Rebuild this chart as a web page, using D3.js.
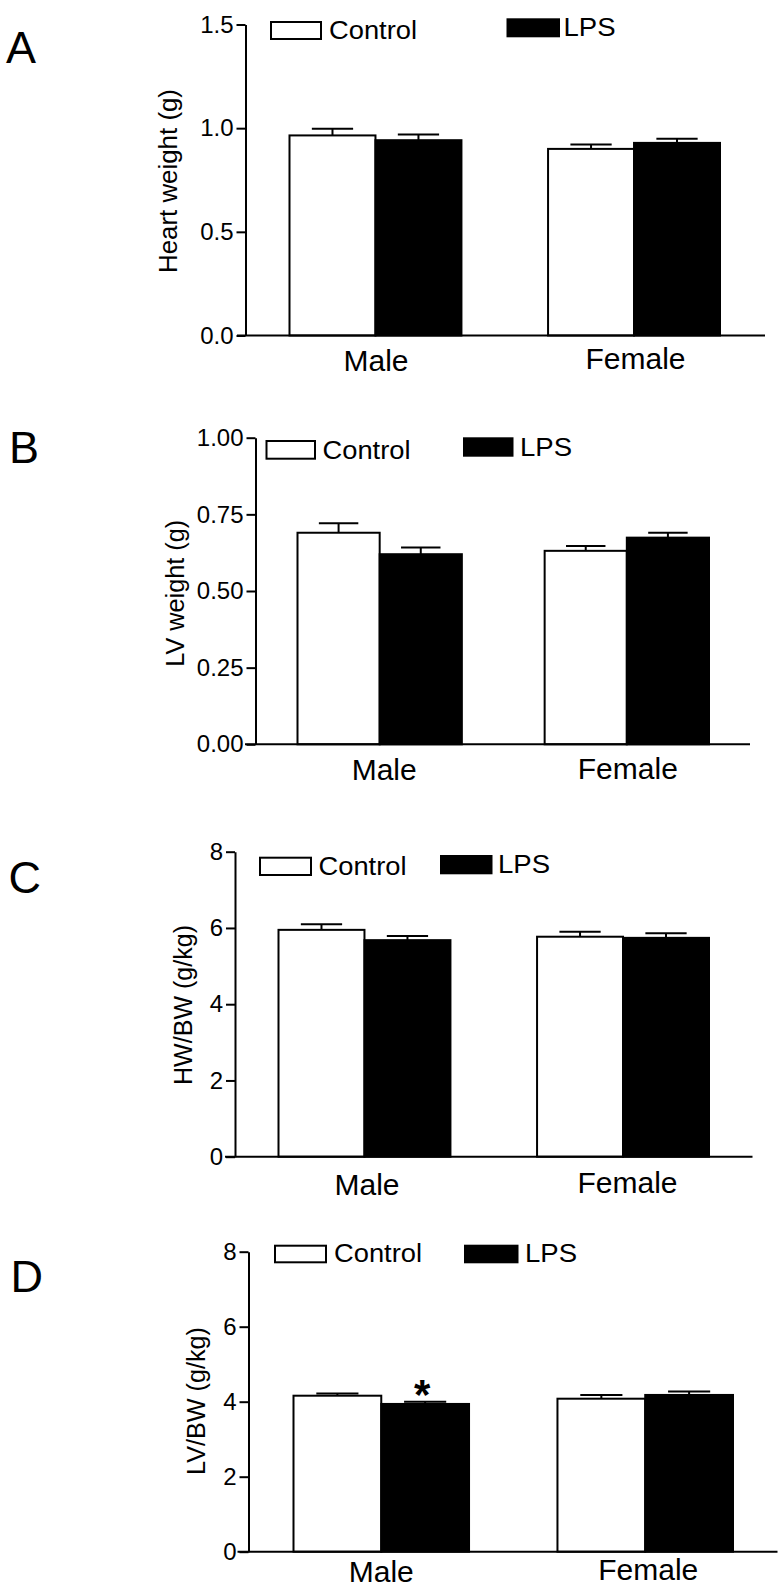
<!DOCTYPE html>
<html>
<head>
<meta charset="utf-8">
<script src="https://cdn.jsdelivr.net/npm/d3@7"></script>
<style>
  html, body { margin: 0; padding: 0; background: #fff; }
  text { font-family: "Liberation Sans", Arial, Helvetica, sans-serif; fill: #000; }
</style>
</head>
<body>
<script>
// ---------- DATA ----------
const categories = ["Male", "Female"];
const seriesNames = ["Control", "LPS"];

// A: Heart weight (g)
const heartCtrl = [0.965, 0.900];
const heartCtrlErr = [0.032, 0.021];
const heartLps = [0.942, 0.929];
const heartLpsErr = [0.028, 0.020];
const heartTicks = [0, 0.5, 1.0, 1.5];

// B: LV weight (g)
const lvCtrl = [0.690, 0.631];
const lvCtrlErr = [0.031, 0.016];
const lvLps = [0.620, 0.674];
const lvLpsErr = [0.022, 0.016];
const lvTicks = [0, 0.25, 0.50, 0.75, 1.00];

// C: HW/BW (g/kg)
const hwbwCtrl = [5.95, 5.77];
const hwbwCtrlErr = [0.15, 0.13];
const hwbwLps = [5.68, 5.74];
const hwbwLpsErr = [0.11, 0.12];
const hwbwTicks = [0, 2, 4, 6, 8];

// D: LV/BW (g/kg)
const lvbwCtrl = [4.16, 4.08];
const lvbwCtrlErr = [0.06, 0.10];
const lvbwLps = [3.94, 4.18];
const lvbwLpsErr = [0.06, 0.09];
const lvbwTicks = [0, 2, 4, 6, 8];
const lvbwLpsSig = ["*", ""];

const noSig = ["", ""];

// ---------- LAYOUT ----------
const panels = [
  { letter: "A", letterX: 6, letterY: 62.7, label: "Heart weight (g)", labelX: 177, labelY: 181, labelLen: 184,
    ctrl: heartCtrl, ctrlErr: heartCtrlErr, lps: heartLps, lpsErr: heartLpsErr, ctrlSig: noSig, lpsSig: noSig,
    ticks: heartTicks, fmt: ".1f", max: 1.5,
    ax: 245.5, y0: 335.5, yTop: 24.5, xl: 237, xr: 765, bx0: 289.5, bx1: 720,
    catY: [370.7, 369], catDx: [0.5, 1.5],
    leg: { c: [271, 22, 50, 17], ct: [329, 39], l: [507.5, 19.3, 51.5, 17], lt: [563.5, 36] } },
  { letter: "B", letterX: 9, letterY: 463.3, label: "LV weight (g)", labelX: 184, labelY: 593.3, labelLen: 147,
    ctrl: lvCtrl, ctrlErr: lvCtrlErr, lps: lvLps, lpsErr: lvLpsErr, ctrlSig: noSig, lpsSig: noSig,
    ticks: lvTicks, fmt: ".2f", max: 1.0,
    ax: 255.5, y0: 744.3, yTop: 437.7, xl: 245, xr: 750, bx0: 297.5, bx1: 709,
    catY: [780, 779], catDx: [4.5, 1],
    leg: { c: [266.5, 441, 48.5, 17.7], ct: [322.5, 458.7], l: [464, 438.3, 48.5, 17.4], lt: [520, 455.7] } },
  { letter: "C", letterX: 8.5, letterY: 892.5, label: "HW/BW (g/kg)", labelX: 192, labelY: 1005, labelLen: 160,
    ctrl: hwbwCtrl, ctrlErr: hwbwCtrlErr, lps: hwbwLps, lpsErr: hwbwLpsErr, ctrlSig: noSig, lpsSig: noSig,
    ticks: hwbwTicks, fmt: "d", max: 8,
    ax: 235, y0: 1156.7, yTop: 851.7, xl: 225, xr: 752.5, bx0: 278.5, bx1: 709,
    catY: [1195, 1193], catDx: [2.5, 4.5],
    leg: { c: [260, 857.7, 51, 17.3], ct: [318.5, 875], l: [441, 856, 50.5, 17.3], lt: [498, 873.3] } },
  { letter: "D", letterX: 10.5, letterY: 1292, label: "LV/BW (g/kg)", labelX: 205, labelY: 1401, labelLen: 148,
    ctrl: lvbwCtrl, ctrlErr: lvbwCtrlErr, lps: lvbwLps, lpsErr: lvbwLpsErr, ctrlSig: noSig, lpsSig: lvbwLpsSig,
    ticks: lvbwTicks, fmt: "d", max: 8,
    ax: 248.5, y0: 1551.7, yTop: 1251.7, xl: 237.5, xr: 777.5, bx0: 293.5, bx1: 733,
    catY: [1581.7, 1580], catDx: [0, 3],
    leg: { c: [275, 1245.7, 51, 16.6], ct: [334, 1262.3], l: [465, 1245.7, 52.5, 16.6], lt: [525, 1262.3] } }
];

const svg = d3.select("body").append("svg")
  .attr("width", 780).attr("height", 1593)
  .style("display", "block");

svg.append("rect").attr("width", 780).attr("height", 1593).attr("fill", "#fff");

panels.forEach(p => {
  const g = svg.append("g");

  const y = d3.scaleLinear().domain([0, p.max]).range([p.y0, p.yTop]);
  const x0 = d3.scaleBand().domain(categories).range([p.bx0, p.bx1]).paddingInner(0.335).paddingOuter(0);
  const x1 = d3.scaleBand().domain(seriesNames).range([0, x0.bandwidth()]).padding(0);

  const rows = categories.map((c, i) => ({
    cat: c, i,
    vals: [
      { s: "Control", v: p.ctrl[i], e: p.ctrlErr[i], sig: p.ctrlSig[i] },
      { s: "LPS", v: p.lps[i], e: p.lpsErr[i], sig: p.lpsSig[i] }
    ]
  }));

  const groups = g.selectAll("g.grp").data(rows).join("g")
    .attr("class", "grp")
    .attr("transform", d => `translate(${x0(d.cat)},0)`);

  // error bars (upper only)
  groups.selectAll("g.err").data(d => d.vals).join("g").attr("class", "err").each(function (d) {
    const cx = x1(d.s) + x1.bandwidth() / 2;
    const capW = x1.bandwidth() * 0.48;
    const sel = d3.select(this);
    sel.append("line").attr("x1", cx).attr("x2", cx)
      .attr("y1", y(d.v)).attr("y2", y(d.v + d.e))
      .attr("stroke", "#000").attr("stroke-width", 2);
    sel.append("line").attr("x1", cx - capW / 2).attr("x2", cx + capW / 2)
      .attr("y1", y(d.v + d.e)).attr("y2", y(d.v + d.e))
      .attr("stroke", "#000").attr("stroke-width", 2);
    if (d.sig) {
      sel.append("text").attr("x", cx - 3).attr("y", y(d.v + d.e) + 7)
        .attr("text-anchor", "middle").attr("font-size", 42).attr("font-weight", "bold")
        .text(d.sig);
    }
  });

  // bars
  groups.selectAll("rect.bar").data(d => d.vals).join("rect")
    .attr("class", "bar")
    .attr("x", d => x1(d.s))
    .attr("y", d => y(d.v))
    .attr("width", x1.bandwidth())
    .attr("height", d => y(0) - y(d.v))
    .attr("fill", d => d.s === "Control" ? "#fff" : "#000")
    .attr("stroke", "#000").attr("stroke-width", 2);

  // y axis
  const yAxis = d3.axisLeft(y).tickValues(p.ticks).tickFormat(d3.format(p.fmt))
    .tickSize(9).tickSizeOuter(0).tickPadding(3);
  const ya = g.append("g").attr("transform", `translate(${p.ax},0)`).call(yAxis);
  ya.select(".domain").attr("stroke", "#000").attr("stroke-width", 2);
  ya.selectAll(".tick line").attr("stroke", "#000").attr("stroke-width", 2);
  ya.selectAll(".tick text").attr("font-size", 24).attr("fill", "#000")
    .style("font-family", '"Liberation Sans", Arial, sans-serif');

  // x axis baseline
  g.append("line").attr("x1", p.xl).attr("x2", p.xr).attr("y1", y(0)).attr("y2", y(0))
    .attr("stroke", "#000").attr("stroke-width", 2);

  // category labels
  g.selectAll("text.cat").data(rows).join("text").attr("class", "cat")
    .attr("x", d => x0(d.cat) + x0.bandwidth() / 2 + p.catDx[d.i])
    .attr("y", d => p.catY[d.i])
    .attr("text-anchor", "middle").attr("font-size", 30)
    .text(d => d.cat);

  // y label
  g.append("text")
    .attr("transform", `translate(${p.labelX},${p.labelY}) rotate(-90)`)
    .attr("text-anchor", "middle").attr("font-size", 25)
    .attr("textLength", p.labelLen).attr("lengthAdjust", "spacingAndGlyphs")
    .text(p.label);

  // panel letter
  g.append("text").attr("x", p.letterX).attr("y", p.letterY)
    .attr("font-size", 45).text(p.letter);

  // legend
  const L = p.leg;
  g.append("rect").attr("x", L.c[0]).attr("y", L.c[1]).attr("width", L.c[2]).attr("height", L.c[3])
    .attr("fill", "#fff").attr("stroke", "#000").attr("stroke-width", 2);
  g.append("text").attr("x", L.ct[0]).attr("y", L.ct[1]).attr("font-size", 25)
    .attr("textLength", 88).attr("lengthAdjust", "spacingAndGlyphs").text(seriesNames[0]);
  g.append("rect").attr("x", L.l[0]).attr("y", L.l[1]).attr("width", L.l[2]).attr("height", L.l[3])
    .attr("fill", "#000").attr("stroke", "#000").attr("stroke-width", 2);
  g.append("text").attr("x", L.lt[0]).attr("y", L.lt[1]).attr("font-size", 25)
    .attr("textLength", 52).attr("lengthAdjust", "spacingAndGlyphs").text(seriesNames[1]);
});
</script>
</body>
</html>
